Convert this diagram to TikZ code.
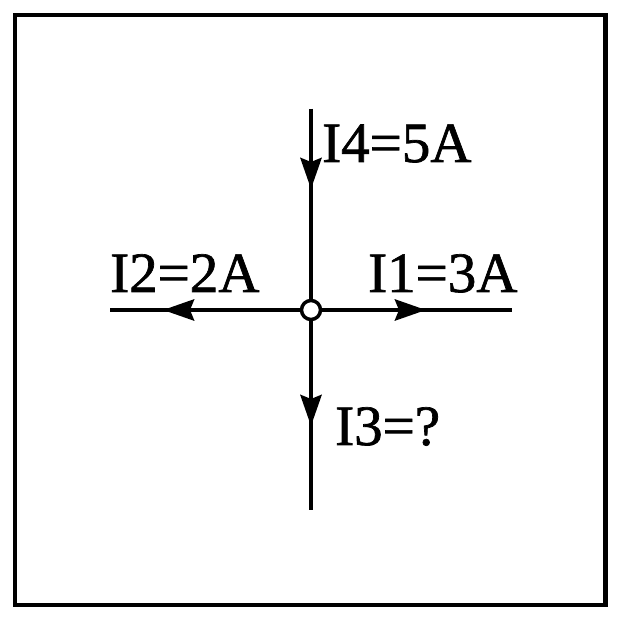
\documentclass[tikz,border=0pt]{standalone}
\usepackage{fontspec}
\setmainfont{Liberation Serif}
\usetikzlibrary{arrows.meta}
\begin{document}
\begin{tikzpicture}[x=1pt,y=-1pt,
  wire/.style={line width=4.5pt},
  cur/.style={line width=4.5pt,-{Stealth[length=31pt,width=21pt,inset=4pt]}},
  lbl/.style={font=\fontsize{57}{60}\selectfont\addfontfeature{FakeBold=1.2}, inner sep=0pt, anchor=base west},
  junction/.style={circle,draw,fill=white,line width=3.5pt,minimum size=19pt,inner sep=0pt}]
\useasboundingbox (0,0) rectangle (622,620);
\draw[line width=4.5pt] (15,15) rectangle (605.5,605);
\coordinate (T) at (311,109);
\coordinate (B) at (311,510);
\coordinate (L) at (110,310);
\coordinate (R) at (512,310);
\coordinate (O) at (311,310);
\coordinate (t4) at (311,189);
\coordinate (t2) at (163,310);
\coordinate (t1) at (426,310);
\coordinate (t3) at (311,426);
\draw[wire] (T) -- (B);
\draw[wire] (L) -- (R);
\draw[cur] (T) -- (t4);
\draw[cur] (O) -- (t2);
\draw[cur] (O) -- (t1);
\draw[cur] (O) -- (t3);
\node[junction] (j) at (O) {};
\node[lbl] (l4) at (322,162) {I4=5A};
\node[lbl] (l2) at (110,292) {I2=2A};
\node[lbl] (l1) at (368,292) {I1=3A};
\node[lbl] (l3) at (335,445) {I3=?};
\end{tikzpicture}
\end{document}
